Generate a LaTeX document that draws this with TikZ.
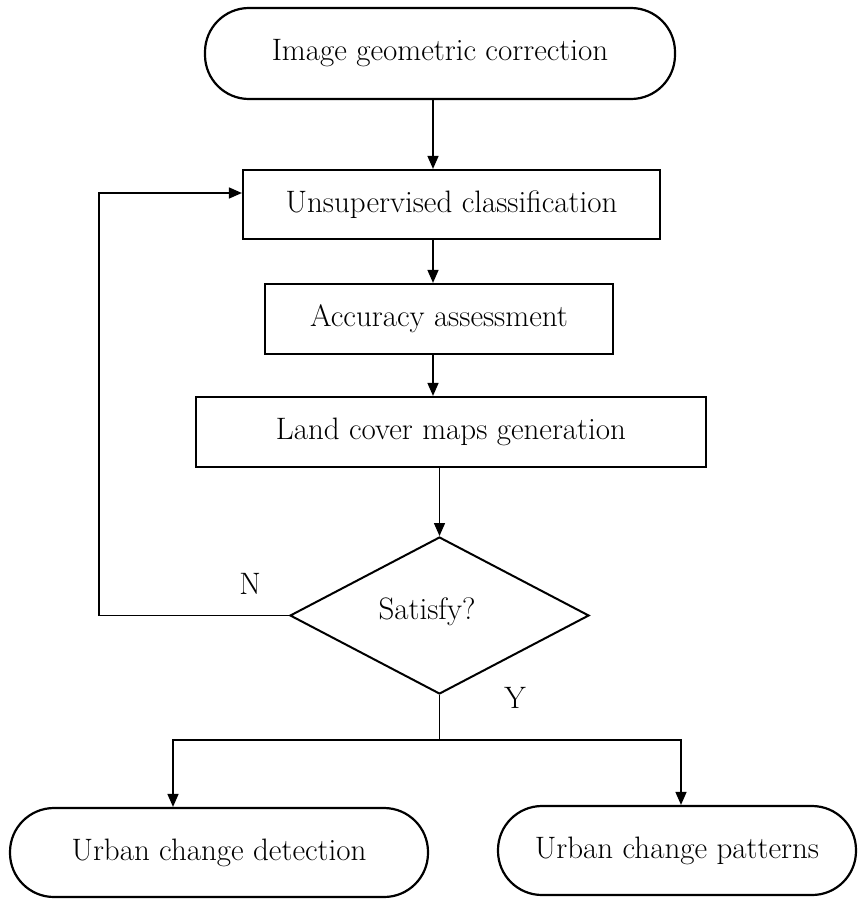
\documentclass[tikz,border=0pt]{standalone}
\usepackage{fontspec}
\usetikzlibrary{shapes.geometric,arrows.meta}
\begin{document}
\begin{tikzpicture}[x=1pt,y=-1pt,
  every node/.style={font=\fontsize{31}{35}\selectfont, inner sep=0pt},
  boxst/.style={draw, line width=2.2pt, rectangle},
  termst/.style={draw, line width=2.2pt, rectangle, rounded corners=44pt},
  diast/.style={draw, diamond, line width=2pt},
  arr/.style={line width=1.5pt, -{Triangle[length=13pt,width=11pt]}},
  ln/.style={line width=1.5pt}]
\useasboundingbox (0,0) rectangle (858,899);
% nodes
\node[termst, minimum width=470pt, minimum height=91pt] (top) at (440,53.5) {Image geometric correction};
\node[boxst, minimum width=417pt, minimum height=69pt] (unsup) at (451.5,204.5) {Unsupervised classification};
\node[boxst, minimum width=348pt, minimum height=70pt] (acc) at (439,319) {Accuracy assessment};
\node[boxst, minimum width=510pt, minimum height=70pt] (land) at (451,432) {Land cover maps generation};
\node[diast, minimum width=299pt, minimum height=157pt] (dia) at (439.5,615.5) {};
\node (sat) at (427,612) {Satisfy?};
\node[termst, minimum width=418pt, minimum height=89pt] (lft) at (219,852.5) {Urban change detection};
\node[termst, minimum width=358pt, minimum height=89pt] (rgt) at (677,850.5) {Urban change patterns};
\node (nlab) at (250,584) {N};
\node (ylab) at (515,698) {Y};
% helper coordinates
\coordinate (ax) at (433,0);
\coordinate (fbx) at (99,0);
\coordinate (sp) at (439.5,740);
\coordinate (lx) at (173,0);
\coordinate (rx) at (681,0);
% connectors
\draw[arr] (top.south -| ax) -- (unsup.north -| ax);
\draw[arr] (unsup.south -| ax) -- (acc.north -| ax);
\draw[arr] (acc.south -| ax) -- (land.north -| ax);
\draw[arr] (land.south -| dia.north) -- (dia.north);
\draw[arr] (dia.west) -- (dia.west -| fbx) |- ([yshift=11.5pt]unsup.west);
\draw[ln] (dia.south) -- (sp);
\draw[arr] (sp) -| (lft.north -| lx);
\draw[arr] (sp) -| (rgt.north -| rx);
\end{tikzpicture}
\end{document}
